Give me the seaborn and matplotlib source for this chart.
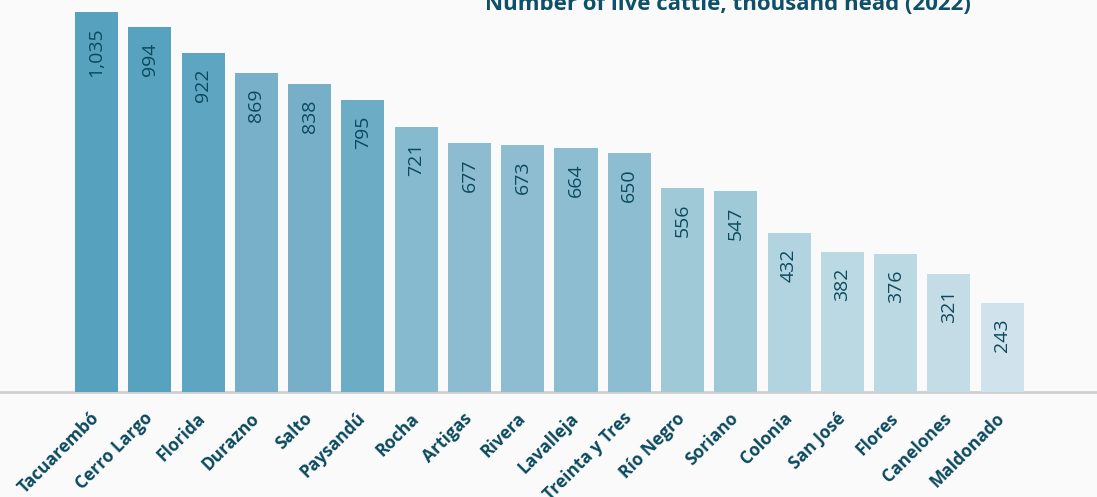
import matplotlib
matplotlib.use("Agg")
import matplotlib.pyplot as plt
import seaborn as sns
import pandas as pd

# Data: live cattle by department, thousand head (2022)
departments = ["Tacuarembó", "Cerro Largo", "Florida", "Durazno", "Salto", "Paysandú",
               "Rocha", "Artigas", "Rivera", "Lavalleja", "Treinta y Tres", "Río Negro",
               "Soriano", "Colonia", "San José", "Flores", "Canelones", "Maldonado"]
cattle = [1035, 994, 922, 869, 838, 795, 721, 677, 673, 664, 650, 556, 547, 432, 382, 376, 321, 243]
bar_colors = ["#56a2be", "#57a2be", "#5ea5c1", "#78afc9", "#77afc9", "#6cacc4",
              "#86bacf", "#8dbcd0", "#8ebdd1", "#8dbdd1", "#8dbdd1", "#a0c9d8",
              "#a0c9d8", "#b1d4e0", "#bad9e3", "#bad9e3", "#c4dce6", "#d0e3ec"]

df = pd.DataFrame({"department": departments, "cattle": cattle})

bg = "#fafafa"
dark = "#0b4a5e"

sns.set_theme(style="white")
plt.rcParams["font.family"] = ["Open Sans", "DejaVu Sans"]

fig = plt.figure(figsize=(10.97, 4.97), dpi=100, facecolor=bg)
ax = fig.add_axes([0, (497 - 392) / 497, 1, 392 / 497])
ax.set_facecolor(bg)

sns.barplot(data=df, x="department", y="cattle", hue="department",
            palette=bar_colors, legend=False, width=0.81, saturation=1,
            linewidth=0, ax=ax)

ax.set_xlim(-1.812, 18.78)
ax.set_ylim(0, 1067.7)

for i, v in enumerate(cattle):
    ax.annotate(f"{v:,}", xy=(i, v), xytext=(0, -11), textcoords="offset points",
                rotation=90, ha="center", va="top", fontsize=14, color=dark)

for s in ["top", "right", "left"]:
    ax.spines[s].set_visible(False)
ax.spines["bottom"].set_color("#d0d0d0")
ax.spines["bottom"].set_linewidth(2)
ax.spines["bottom"].set_zorder(0)

ax.set_yticks([])
ax.set_xlabel("")
ax.set_ylabel("")
ax.tick_params(axis="x", length=0, pad=17)
plt.setp(ax.get_xticklabels(), rotation=45, ha="right", va="center", rotation_mode="anchor",
         fontsize=12.5, fontweight="bold", color=dark)

fig.text(0.664, 1 - 10 / 497, "Number of live cattle, thousand head (2022)",
         ha="center", va="baseline", fontsize=16, fontweight="bold", color="#0e5068")

fig.savefig("out.png", dpi=100, facecolor=bg)
